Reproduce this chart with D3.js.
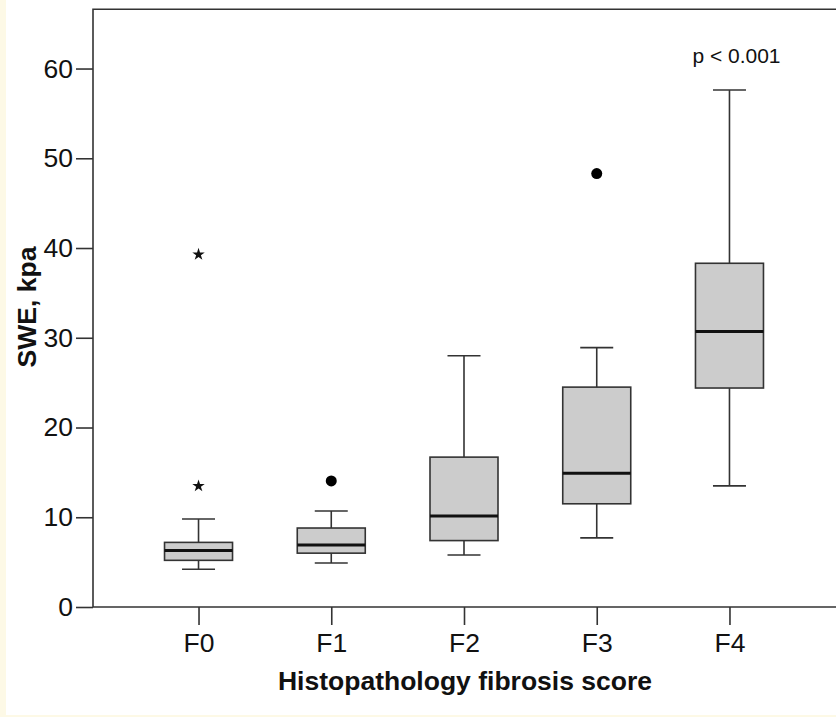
<!DOCTYPE html>
<html><head><meta charset="utf-8">
<script src="https://cdn.jsdelivr.net/npm/d3@7"></script>
<style>html,body{margin:0;padding:0;background:#fdf9e6;}svg{display:block;}</style>
</head><body>
<svg id="c" width="836" height="717"></svg>
<script>
const categories = ["F0","F1","F2","F3","F4"];
const lowerWhisker = [4.2, 4.9, 5.8, 7.7, 13.5];
const q1 = [5.2, 6.0, 7.4, 11.5, 24.4];
const median = [6.3, 6.9, 10.15, 14.9, 30.7];
const q3 = [7.2, 8.8, 16.7, 24.5, 38.3];
const upperWhisker = [9.8, 10.7, 28.0, 28.9, 57.6];
const outlierCategory = ["F0","F0","F1","F3"];
const outlierValue = [39.4, 13.6, 14.05, 48.3];
const outlierType = ["extreme","extreme","outlier","outlier"];
const yTicks = [0,10,20,30,40,50,60];

const svg = d3.select("#c");
svg.append("rect").attr("x",6).attr("y",0).attr("width",830).attr("height",715).attr("fill","#ffffff");

const x = d3.scalePoint().domain(categories).range([93, 835]).padding(0.795);
const y = d3.scaleLinear().domain([0, 66.6]).range([607, 9.3]);
const ink = "#333";
const font = "Arial, 'Liberation Sans', sans-serif";

// frame
svg.append("path").attr("d", `M840,${y(66.6)}H${x.range()[0]}V${y(0)}H840`)
  .attr("fill","none").attr("stroke",ink).attr("stroke-width",1.6);

// y axis
const ya = svg.append("g").attr("transform","translate(93,0)")
  .call(d3.axisLeft(y).tickValues(yTicks).tickSize(17).tickPadding(3).tickFormat(d3.format("d")));
ya.select(".domain").remove();
ya.selectAll(".tick line").attr("stroke",ink).attr("stroke-width",1.6);
ya.selectAll(".tick text").attr("font-family",font).attr("font-size",26.5).attr("fill","#111");

// x axis
const xa = svg.append("g").attr("transform",`translate(0,${y(0)})`)
  .call(d3.axisBottom(x).tickSize(18).tickPadding(8));
xa.select(".domain").remove();
xa.selectAll(".tick line").attr("stroke",ink).attr("stroke-width",1.6);
xa.selectAll(".tick text").attr("font-family",font).attr("font-size",26.5).attr("fill","#111");

// boxes
const boxW = 68, capW = 33;
const data = categories.map((c,i)=>({c, lo:lowerWhisker[i], q1:q1[i], med:median[i], q3:q3[i], hi:upperWhisker[i]}));
const g = svg.append("g");
data.forEach(d=>{
  const cx = x(d.c);
  g.append("line").attr("x1",cx).attr("x2",cx).attr("y1",y(d.q3)).attr("y2",y(d.hi)).attr("stroke",ink).attr("stroke-width",1.6);
  g.append("line").attr("x1",cx).attr("x2",cx).attr("y1",y(d.q1)).attr("y2",y(d.lo)).attr("stroke",ink).attr("stroke-width",1.6);
  g.append("line").attr("x1",cx-capW/2).attr("x2",cx+capW/2).attr("y1",y(d.hi)).attr("y2",y(d.hi)).attr("stroke",ink).attr("stroke-width",1.6);
  g.append("line").attr("x1",cx-capW/2).attr("x2",cx+capW/2).attr("y1",y(d.lo)).attr("y2",y(d.lo)).attr("stroke",ink).attr("stroke-width",1.6);
  g.append("rect").attr("x",cx-boxW/2).attr("y",y(d.q3)).attr("width",boxW).attr("height",y(d.q1)-y(d.q3))
    .attr("fill","#cccccc").attr("stroke",ink).attr("stroke-width",1.6);
  g.append("line").attr("x1",cx-boxW/2).attr("x2",cx+boxW/2).attr("y1",y(d.med)).attr("y2",y(d.med)).attr("stroke","#111").attr("stroke-width",3);
});

// outliers
outlierValue.forEach((v,i)=>{
  const cx = x(outlierCategory[i]), cy = y(v);
  if (outlierType[i]==="outlier") {
    g.append("circle").attr("cx",cx).attr("cy",cy).attr("r",5.5).attr("fill","#000");
  } else {
    g.append("path").attr("transform",`translate(${cx},${cy+1})`)
      .attr("d", d3.symbol(d3.symbolStar, 48)()).attr("fill","#111");
  }
});

// annotation
svg.append("text").attr("x",x("F4")+7).attr("y",y(60)-6).attr("text-anchor","middle")
  .attr("font-family",font).attr("font-size",21).attr("fill","#111").text("p < 0.001");

// axis titles
svg.append("text").attr("x",465).attr("y",690).attr("text-anchor","middle")
  .attr("font-family",font).attr("font-size",26.5).attr("font-weight","bold").attr("fill","#111")
  .text("Histopathology fibrosis score");
svg.append("text").attr("transform","translate(36,307) rotate(-90)").attr("text-anchor","middle")
  .attr("font-family",font).attr("font-size",26.5).attr("font-weight","bold").attr("fill","#111")
  .text("SWE, kpa");
</script>
</body></html>
